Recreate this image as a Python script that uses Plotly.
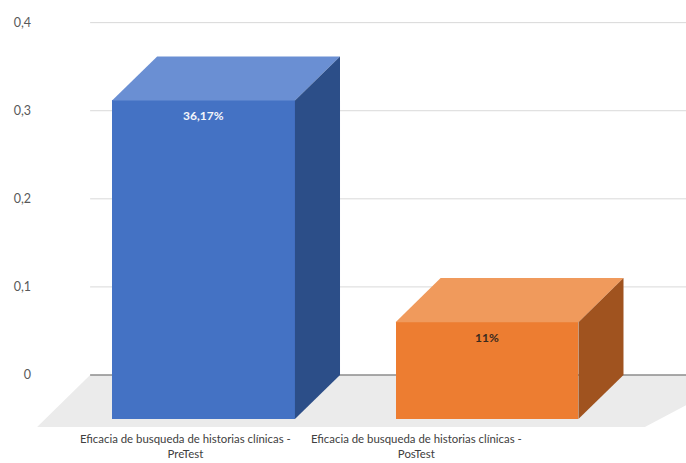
import plotly.graph_objects as go

# ---- data ----
categories = ["Eficacia de busqueda de historias clínicas - PreTest",
              "Eficacia de busqueda de historias clínicas - PosTest"]
values = [0.3617, 0.11]
value_labels = ["36,17%", "11%"]
y_ticks = [0, 0.1, 0.2, 0.3, 0.4]

# ---- styling / 3D geometry (axis units) ----
front_colors = ["#4472C4", "#ED7D31"]
top_colors = ["#6A8FD3", "#F09A5C"]
side_colors = ["#2C4E88", "#A0531F"]
label_colors = ["#F4F6FB", "#3A2A1E"]
bar_w = 0.645          # bar width in category units
dx = 0.159             # depth, horizontal (category units)
dz = 0.050             # depth, vertical (value units)
wall_left = -0.40      # back wall left edge
floor_front = -0.059
floor_front_left = -0.587
floor_front_right = 1.557
x_range = [-0.605, 1.702]
y_range = [-0.0999, 0.4257]
label_x = [-0.065, 0.75]

fig = go.Figure()

# floor (shape below traces)
fig.add_shape(type="path", xref="x", yref="y", layer="below",
              path=(f"M {wall_left} 0 L {x_range[1] + 0.2} 0 L {floor_front_right} {floor_front} "
                    f"L {floor_front_left} {floor_front} Z"),
              fillcolor="#EBEBEB", line=dict(width=0))

# gridlines on back wall
for t in y_ticks:
    fig.add_shape(type="line", xref="x", yref="y", layer="below",
                  x0=wall_left, x1=x_range[1], y0=t, y1=t,
                  line=dict(color="#8C8C8C" if t == 0 else "#D9D9D9",
                            width=1.3 if t == 0 else 1))

# front faces
fig.add_trace(go.Bar(
    x=list(range(len(values))), y=values, base=[-dz] * len(values), width=bar_w,
    marker=dict(color=front_colors, line=dict(width=0)),
    hoverinfo="skip", showlegend=False))

# top and side faces
for i, v in enumerate(values):
    xl, xr = i - bar_w / 2, i + bar_w / 2
    fig.add_trace(go.Scatter(
        x=[xl, xr, xr + dx, xl + dx, xl], y=[v - dz, v - dz, v, v, v - dz],
        fill="toself", fillcolor=top_colors[i], line=dict(width=0), mode="lines",
        hoverinfo="skip", showlegend=False))
    fig.add_trace(go.Scatter(
        x=[xr, xr, xr + dx, xr + dx, xr], y=[-dz, v - dz, v, 0, -dz],
        fill="toself", fillcolor=side_colors[i], line=dict(width=0), mode="lines",
        hoverinfo="skip", showlegend=False))
    fig.add_annotation(x=i, y=v - dz, text="<b>" + value_labels[i] + "</b>", showarrow=False,
                       yshift=-15, font=dict(family="Lato", size=12, color=label_colors[i]))

# category labels
for i, c in enumerate(categories):
    a, b = c.rsplit(" - ", 1)
    fig.add_annotation(x=label_x[i], y=0, yref="paper", yanchor="bottom", yshift=1,
                       text=a + " -<br>" + b, showarrow=False,
                       font=dict(family="Lato", size=11.4, color="#404040"))

fig.update_layout(
    width=686, height=463, margin=dict(l=32, r=0, t=0, b=0),
    paper_bgcolor="white", plot_bgcolor="white", separators=",.",
    bargap=0,
    xaxis=dict(range=x_range, visible=False, fixedrange=True),
    yaxis=dict(range=y_range, tickvals=y_ticks, showgrid=False, zeroline=False,
               showline=False, ticks="", fixedrange=True,
               tickfont=dict(family="Lato", size=12.5, color="#595959")),
)

fig.write_html("out.html")
